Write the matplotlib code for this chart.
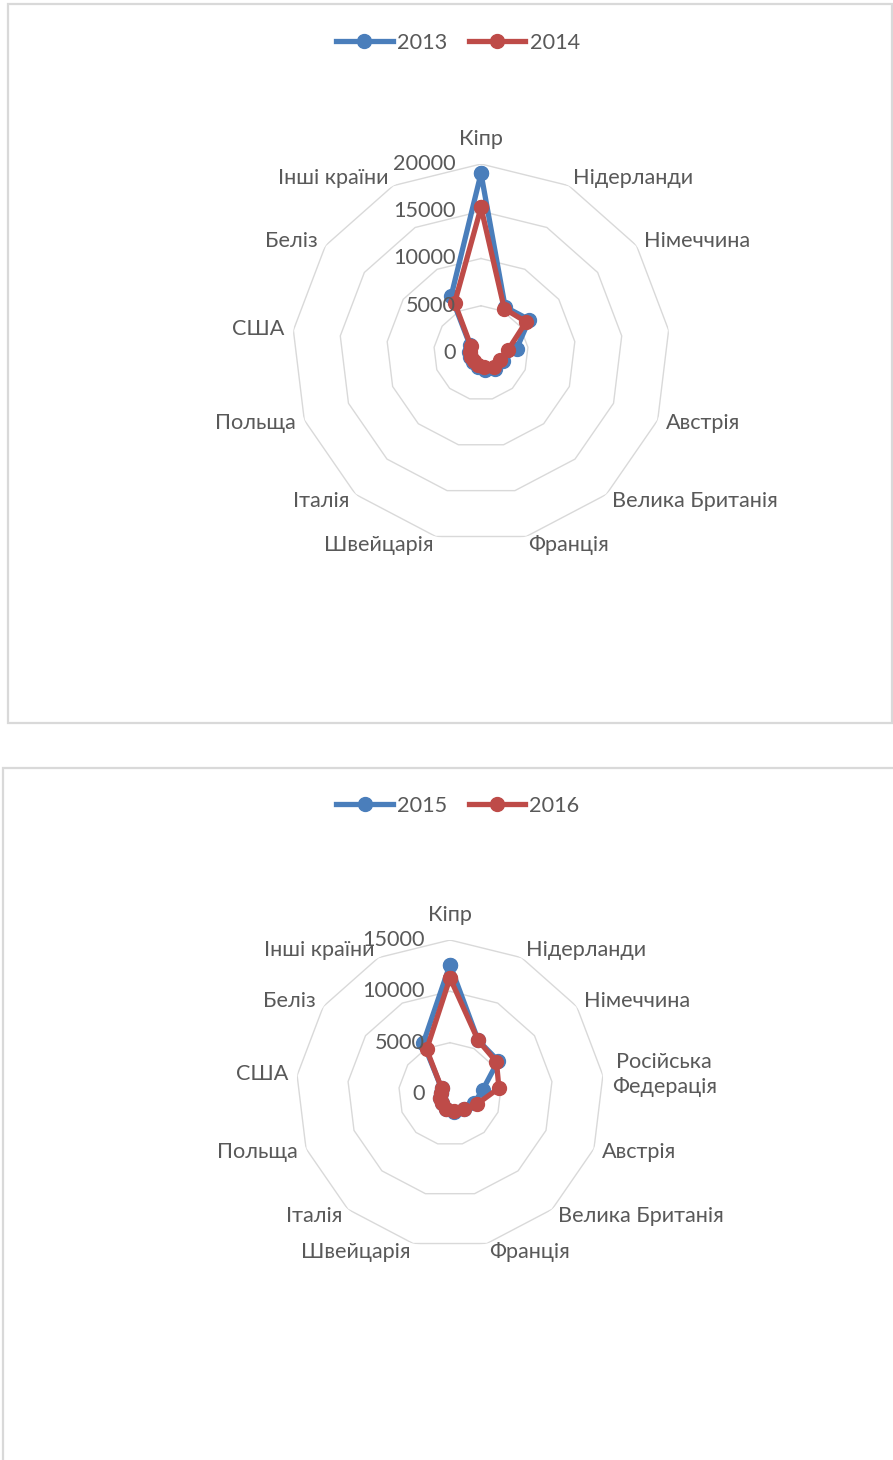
import numpy as np
import matplotlib
matplotlib.use('Agg')
import matplotlib.pyplot as plt
from matplotlib.patches import Rectangle

plt.rcParams['font.family'] = ['Lato', 'DejaVu Sans']

# top chart: the Russian Federation spoke carries no label
countries_a = ['Кіпр', 'Нідерланди', 'Німеччина', '', 'Австрія', 'Велика Британія',
               'Франція', 'Швейцарія', 'Італія', 'Польща', 'США', 'Беліз', 'Інші країни']
values_2013 = [19000, 5500, 6200, 3800, 2500, 2300, 1800, 1500, 1300, 1300, 1300, 1400, 6800]
values_2014 = [15400, 5300, 5800, 2900, 2100, 2000, 1500, 1300, 1100, 1100, 1200, 1300, 6000]
ticks_a = [0, 5000, 10000, 15000, 20000]

countries_b = ['Кіпр', 'Нідерланди', 'Німеччина', 'Російська\nФедерація', 'Австрія',
               'Велика Британія', 'Франція', 'Швейцарія', 'Італія', 'Польща', 'США',
               'Беліз', 'Інші країни']
values_2015 = [12600, 5900, 5700, 3200, 2500, 2000, 1800, 1500, 1200, 1000, 900, 1000, 5600]
values_2016 = [11300, 5900, 5500, 4800, 2800, 2000, 1700, 1500, 1200, 1000, 900, 1000, 4900]
ticks_b = [0, 5000, 10000, 15000]

W, H = 893, 1460
BLUE = '#4a7ebb'
RED = '#be4b48'
GRID = '#d9d9d9'
TEXT = '#595959'
FS = 15.6

fig = plt.figure(figsize=(W / 100, H / 100), dpi=100)


def frame(x0, y0, x1, y1):
    fig.add_artist(Rectangle((x0 / W, 1 - y1 / H), (x1 - x0) / W, (y1 - y0) / H,
                             transform=fig.transFigure, fill=False,
                             edgecolor=GRID, linewidth=1.6))


def radar(cx, cy, rad, labels, series, names, ticks, legend_y):
    ax = fig.add_axes([(cx - rad) / W, 1 - (cy + rad) / H, 2 * rad / W, 2 * rad / H],
                      projection='polar')
    ax.set_theta_zero_location('N')
    ax.set_theta_direction(-1)
    n = len(labels)
    theta = np.linspace(0, 2 * np.pi, n, endpoint=False)
    closed = np.append(theta, theta[0])
    ax.set_ylim(0, ticks[-1])
    ax.axis('off')

    # polygon rings instead of circles
    for t in ticks[1:]:
        ax.plot(closed, [t] * (n + 1), color=GRID, lw=1.0, zorder=1)

    handles = []
    for vals, color in zip(series, (BLUE, RED)):
        v = np.append(vals, vals[0])
        ln, = ax.plot(closed, v, color=color, lw=3.8, marker='o', ms=10,
                      clip_on=False, zorder=3)
        handles.append(ln)

    for t in ticks:
        ax.annotate(f'{t}', (0, t), xytext=(-25, 0), textcoords='offset pixels',
                    ha='right', va='center', fontsize=FS, color=TEXT,
                    annotation_clip=False)

    for th, lab in zip(theta, labels):
        s, c = np.sin(th), np.cos(th)
        if s > 0.1:
            ha = 'left'
        elif s < -0.1:
            ha = 'right'
        else:
            ha = 'center'
        if c > 0.95:
            va, gap = 'bottom', 15
        else:
            va, gap = 'center', 9
        ax.annotate(lab, (th, ticks[-1]), xytext=(gap * s, gap * c),
                    textcoords='offset pixels', ha=ha, va=va, fontsize=FS,
                    color=TEXT, multialignment='center', linespacing=1.3,
                    annotation_clip=False)

    fig.legend(handles, names, loc='center', bbox_to_anchor=(458 / W, 1 - legend_y / H),
               ncol=2, frameon=False, fontsize=FS, handlelength=2.6,
               handletextpad=0.2, columnspacing=1.0, labelcolor=TEXT)


frame(8, 4, 892, 723)
frame(3, 768, 905, 1475)

radar(481, 353, 189, countries_a, [values_2013, values_2014], ['2013', '2014'], ticks_a, 43)
radar(450, 1094, 154, countries_b, [values_2015, values_2016], ['2015', '2016'], ticks_b, 806)

fig.savefig('out.png', dpi=100)
